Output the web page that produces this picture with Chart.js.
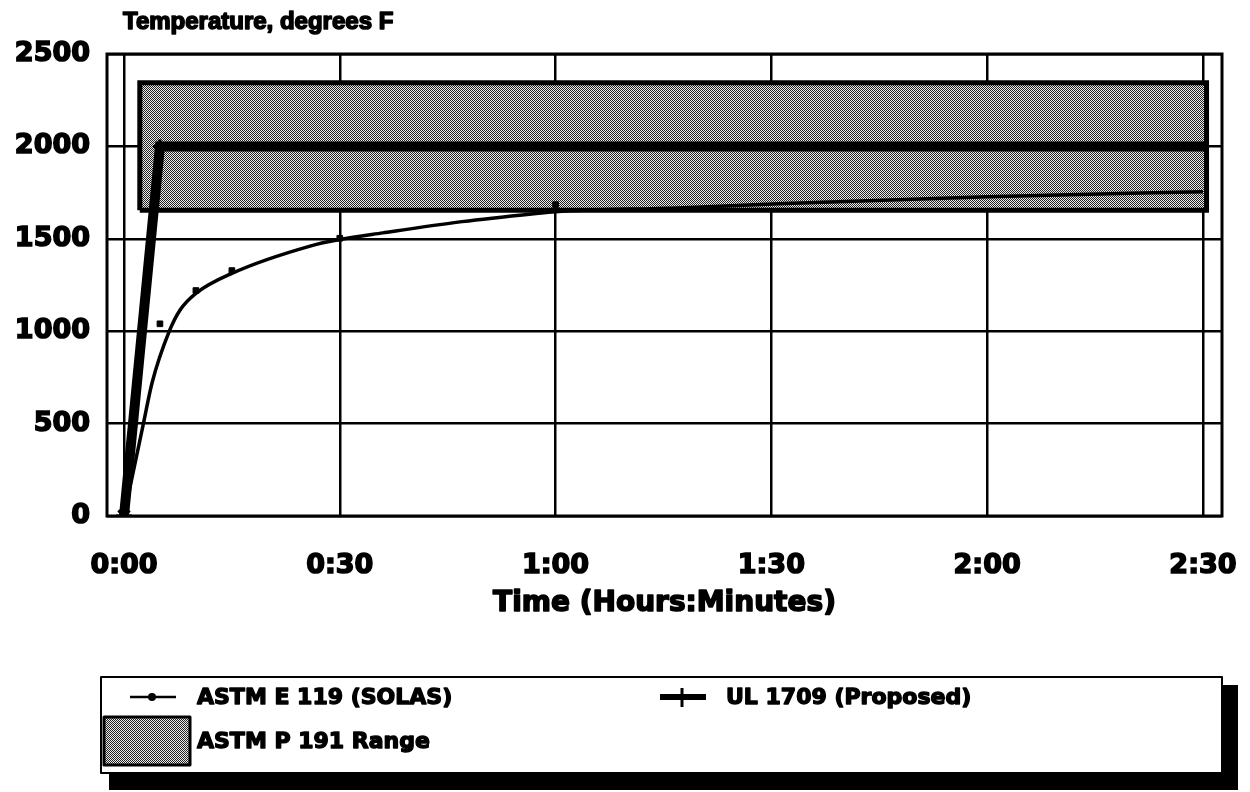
<!DOCTYPE html>
<html>
<head>
<meta charset="utf-8">
<script src="https://cdn.jsdelivr.net/npm/chart.js@4/dist/chart.umd.min.js"></script>
<style>
  html, body { margin: 0; padding: 0; background: #fff; }
  #wrap { position: relative; width: 1250px; height: 792px; }
</style>
</head>
<body>
<div id="wrap"><canvas id="fireChart" width="1250" height="792"></canvas></div>
<script>
// time in minutes, temperature in degrees F
const timeTicks = [0, 30, 60, 90, 120, 150];
const tempTicks = [0, 500, 1000, 1500, 2000, 2500];

const e119Minutes = [0, 2.7, 3.9, 6.3, 7.8, 10, 15, 26, 30, 36, 47, 57, 60, 77, 91, 120, 150];
const e119Temps   = [0, 500, 720, 1000, 1115, 1205, 1313, 1462, 1496, 1532, 1593, 1636, 1647, 1667, 1690, 1728, 1755];

const e119MarkMinutes = [0, 5, 10, 15, 30, 60];
const e119MarkTemps   = [0, 1040, 1220, 1328, 1503, 1685];

const ul1709Minutes = [0, 5, 150.5];
const ul1709Temps   = [0, 2000, 2000];

const rangeMinutes = [2.2, 150.5];
const rangeTemps   = [1655, 2345];

const seriesLabels = ["ASTM E 119 (SOLAS)", "UL 1709 (Proposed)", "ASTM P 191 Range"];

const FONT = "DejaVu Sans";

const canvas = document.getElementById("fireChart");
const ctx = canvas.getContext("2d");

// fine checker halftone for the range band
function halftone() {
    const c = document.createElement("canvas");
    c.width = 2; c.height = 2;
    const g = c.getContext("2d");
    g.fillStyle = "#ececec"; g.fillRect(0, 0, 2, 2);
    g.fillStyle = "#222"; g.fillRect(0, 0, 1, 1); g.fillRect(1, 1, 1, 1);
    return ctx.createPattern(c, "repeat");
}
const grey = halftone();

const pairs = (xs, ys) => xs.map((x, i) => ({ x: x, y: ys[i] }));

const rangeShape = [
    { x: rangeMinutes[0], y: rangeTemps[0] },
    { x: rangeMinutes[0], y: rangeTemps[1] },
    { x: rangeMinutes[1], y: rangeTemps[1] },
    { x: rangeMinutes[1], y: rangeTemps[0] },
    { x: rangeMinutes[0], y: rangeTemps[0] }
];

function hhmm(v) {
    const h = Math.floor(v / 60), m = Math.round(v % 60);
    return h + ":" + (m < 10 ? "0" + m : m);
}

// heavy text: fill plus a thin stroke
function heavyText(c, s, x, y, w) {
    c.lineWidth = w;
    c.lineJoin = "round";
    c.strokeText(s, x, y);
    c.fillText(s, x, y);
}

// titles, plot frame and the boxed legend
const decorations = {
    id: "decorations",
    afterDraw(chart) {
        const c = chart.ctx, a = chart.chartArea;
        c.save();
        c.strokeStyle = "#000";
        c.lineWidth = 3;
        c.strokeRect(a.left, a.top, a.right - a.left, a.bottom - a.top);

        c.fillStyle = "#000";
        c.textBaseline = "middle";
        c.textAlign = "left";
        c.font = "bold 24px 'Liberation Sans'";
        heavyText(c, "Temperature, degrees F", a.left + 16, 22, 1.6);

        c.textAlign = "center";
        c.font = "bold 28px '" + FONT + "'";
        heavyText(c, "Time (Hours:Minutes)", (a.left + a.right) / 2, 604, 1.6);

        // legend box with drop shadow
        const bx = 101, by = 677, bw = 1121, bh = 96;
        c.fillStyle = "#000";
        c.fillRect(bx + 8, by + 8, bw + 8, bh + 9);
        c.fillStyle = "#fff";
        c.fillRect(bx, by, bw, bh);
        c.lineWidth = 2;
        c.strokeRect(bx, by, bw, bh);

        c.fillStyle = "#000";
        c.textAlign = "left";
        c.font = "bold 22px '" + FONT + "'";

        // E 119 entry
        c.lineWidth = 2.5;
        c.beginPath(); c.moveTo(130, 697); c.lineTo(176, 697); c.stroke();
        c.beginPath(); c.arc(152, 697, 4, 0, Math.PI * 2); c.fill();
        heavyText(c, seriesLabels[0], 197, 698, 1.4);

        // UL 1709 entry
        c.lineWidth = 6;
        c.beginPath(); c.moveTo(660, 697); c.lineTo(706, 697); c.stroke();
        c.lineWidth = 3;
        c.beginPath(); c.moveTo(682, 688); c.lineTo(682, 707); c.stroke();
        heavyText(c, seriesLabels[1], 726, 698, 1.4);

        // range entry
        c.fillStyle = grey;
        c.fillRect(104, 717, 86, 48);
        c.lineWidth = 3;
        c.strokeRect(104, 717, 86, 48);
        c.fillStyle = "#000";
        heavyText(c, seriesLabels[2], 197, 742, 1.4);
        c.restore();
    }
};

const tickFont = { family: FONT, size: 27, weight: "bold" };

new Chart(ctx, {
    type: "line",
    data: {
        datasets: [
            {
                label: seriesLabels[2],
                data: rangeShape,
                fill: "shape",
                backgroundColor: grey,
                borderColor: "#000",
                borderWidth: 5,
                borderJoinStyle: "miter",
                pointRadius: 0,
                tension: 0,
                order: 4
            },
            {
                label: seriesLabels[0],
                data: pairs(e119Minutes, e119Temps),
                borderColor: "#000",
                borderWidth: 3.5,
                pointRadius: 0,
                cubicInterpolationMode: "monotone",
                fill: false,
                order: 3
            },
            {
                label: seriesLabels[1],
                data: pairs(ul1709Minutes, ul1709Temps),
                borderColor: "#000",
                borderWidth: 10,
                borderJoinStyle: "miter",
                pointStyle: "cross",
                pointRadius: [0, 7, 0],
                pointBorderWidth: 3,
                pointBorderColor: "#000",
                fill: false,
                tension: 0,
                order: 2
            },
            {
                label: "E 119 points",
                data: pairs(e119MarkMinutes, e119MarkTemps),
                showLine: false,
                pointStyle: ["star", "rect", "rect", "rect", "rect", "rect"],
                pointRadius: [8, 4, 4, 4, 4, 4],
                pointBorderWidth: [3, 1, 1, 1, 1, 1],
                pointBackgroundColor: "#000",
                pointBorderColor: "#000",
                order: 1
            }
        ]
    },
    options: {
        responsive: false,
        animation: false,
        layout: { padding: { top: 54, right: 28, bottom: 0, left: 0 } },
        plugins: {
            legend: { display: false },
            tooltip: { enabled: false }
        },
        scales: {
            x: {
                type: "linear",
                min: -2.36,
                max: 152.65,
                z: 1,
                afterBuildTicks: s => { s.ticks = timeTicks.map(v => ({ value: v })); },
                afterFit: s => { s.height = 276; s.paddingLeft = 0; s.paddingRight = 0; },
                grid: { color: "#000", lineWidth: 2.5, drawTicks: false },
                border: { display: false },
                ticks: {
                    color: "#000",
                    font: tickFont,
                    textStrokeColor: "#000",
                    textStrokeWidth: 1.6,
                    padding: 34,
                    maxRotation: 0,
                    autoSkip: false,
                    callback: v => hhmm(v)
                }
            },
            y: {
                min: 0,
                max: 2500,
                afterBuildTicks: s => { s.ticks = tempTicks.map(v => ({ value: v })); },
                afterFit: s => { s.width = 107; s.paddingTop = 0; s.paddingBottom = 0; },
                grid: { color: "#000", lineWidth: 2.5, drawTicks: false },
                border: { display: false },
                ticks: {
                    color: "#000",
                    font: tickFont,
                    textStrokeColor: "#000",
                    textStrokeWidth: 1.6,
                    padding: 17,
                    callback: v => String(v)
                }
            }
        }
    },
    plugins: [decorations]
});
</script>
</body>
</html>
